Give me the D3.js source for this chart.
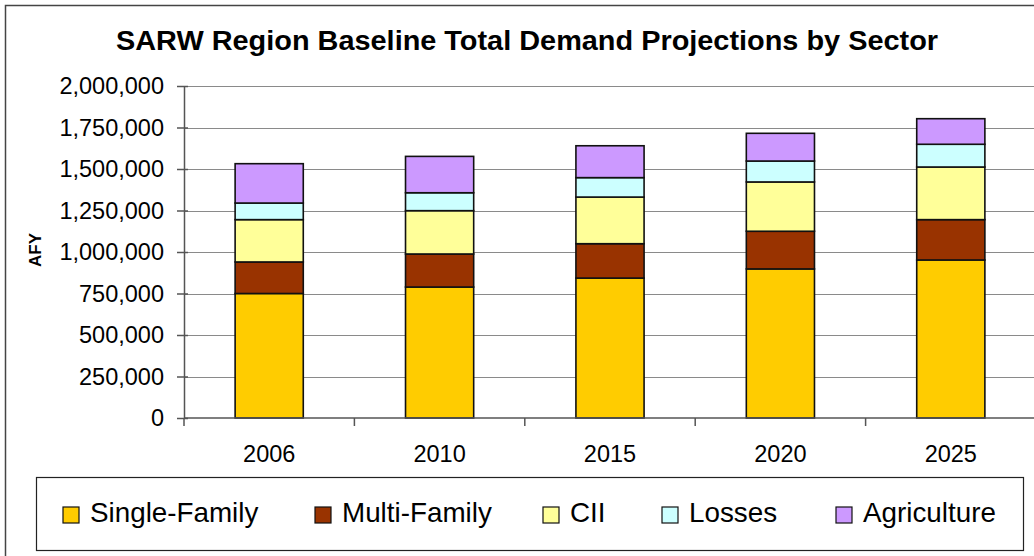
<!DOCTYPE html>
<html>
<head>
<meta charset="utf-8">
<script src="https://cdn.jsdelivr.net/npm/d3@7"></script>
<style>
	body { margin: 0; background: #fff; }
	svg { display: block; font-family: "Liberation Sans", Arial, sans-serif; }
	.grid line { stroke: #8a8a8a; stroke-width: 1; }
	.axis path, .axis line { stroke: #555; stroke-width: 1.5; }
	.axis text { fill: #000; font-size: 23.5px; }
</style>
</head>
<body>
<svg id="chart" width="1034" height="556"></svg>
<script>
const years = ["2006", "2010", "2015", "2020", "2025"];
const sectors = ["Single-Family", "Multi-Family", "CII", "Losses", "Agriculture"];
const sectorColors = ["#FFCC00", "#993300", "#FFFF99", "#CCFFFF", "#CC99FF"];

// AFY by sector
const singleFamily = [750000, 789000, 843000, 898000, 952000];
const multiFamily = [190000, 199000, 207000, 227000, 243000];
const cii = [255000, 261000, 281000, 297000, 317000];
const losses = [100000, 108000, 117000, 126000, 137000];
const agriculture = [237000, 219000, 192000, 167000, 154000];

const yTicks = [0, 250000, 500000, 750000, 1000000, 1250000, 1500000, 1750000, 2000000];

const width = 1034, height = 556;
const margin = { top: 86, right: -2, bottom: 138, left: 184 };

const svg = d3.select("#chart");

const rows = years.map((yr, i) => ({
	year: yr,
	"Single-Family": singleFamily[i],
	"Multi-Family": multiFamily[i],
	"CII": cii[i],
	"Losses": losses[i],
	"Agriculture": agriculture[i]
}));

const stacked = d3.stack().keys(sectors)(rows);

const x = d3.scaleBand()
	.domain(years)
	.range([margin.left, width - margin.right])
	.paddingInner(0.6)
	.paddingOuter(0.3);

// category boundaries for tick marks
const xEdges = d3.scaleBand().domain(years).range(x.range());

const y = d3.scaleLinear()
	.domain([0, 2000000])
	.range([height - margin.bottom, margin.top]);

const color = d3.scaleOrdinal().domain(sectors).range(sectorColors);

// outer chart border
svg.append("rect")
	.attr("x", 5.5).attr("y", 5.5)
	.attr("width", 1040).attr("height", 560)
	.attr("fill", "none")
	.attr("stroke", "#444")
	.attr("stroke-width", 1.5);

// title
svg.append("text")
	.attr("x", 527)
	.attr("y", 50)
	.attr("text-anchor", "middle")
	.attr("font-size", "27px")
	.attr("font-weight", "bold")
	.attr("textLength", 822)
	.attr("lengthAdjust", "spacingAndGlyphs")
	.text("SARW Region Baseline Total Demand Projections by Sector");

// gridlines
svg.append("g")
	.attr("class", "grid")
	.selectAll("line")
	.data(yTicks.slice(1))
	.join("line")
	.attr("x1", margin.left)
	.attr("x2", width)
	.attr("y1", d => Math.round(y(d)) + 0.5)
	.attr("y2", d => Math.round(y(d)) + 0.5);

// bars
svg.append("g")
	.selectAll("g")
	.data(stacked)
	.join("g")
	.attr("fill", d => color(d.key))
	.selectAll("rect")
	.data(d => d)
	.join("rect")
	.attr("x", d => x(d.data.year))
	.attr("width", x.bandwidth())
	.attr("y", d => y(d[1]))
	.attr("height", d => y(d[0]) - y(d[1]))
	.attr("stroke", "#111")
	.attr("stroke-width", 1.6);

// y axis
const yAxis = svg.append("g")
	.attr("class", "axis")
	.attr("transform", `translate(${margin.left},0)`)
	.call(d3.axisLeft(y).tickValues(yTicks).tickFormat(d3.format(",")).tickSize(7).tickSizeOuter(0).tickPadding(13));
yAxis.selectAll(".tick line").attr("x2", 4).attr("x1", -7);

// x axis
const xAxis = svg.append("g")
	.attr("class", "axis")
	.attr("transform", `translate(0,${y(0)})`)
	.call(d3.axisBottom(x).tickSize(0).tickSizeOuter(0).tickPadding(27));
xAxis.select(".domain").attr("d", `M${margin.left},0H${width}`);
xAxis.append("g")
	.selectAll("line")
	.data(years.map(d => xEdges(d)).concat([xEdges.range()[1]]))
	.join("line")
	.attr("x1", d => d).attr("x2", d => d)
	.attr("y1", 0).attr("y2", 8)
	.attr("stroke", "#555")
	.attr("stroke-width", 1.5);

// y axis title
svg.append("text")
	.attr("transform", "translate(41,250) rotate(-90)")
	.attr("text-anchor", "middle")
	.attr("font-size", "17px")
	.attr("font-weight", "bold")
	.text("AFY");

// legend
const legend = svg.append("g").attr("class", "legend");
legend.append("rect")
	.attr("x", 36.5).attr("y", 477.5)
	.attr("width", 987).attr("height", 73)
	.attr("fill", "#fff")
	.attr("stroke", "#222")
	.attr("stroke-width", 1.2);

const legendX = [63, 315, 543, 662, 836];
const items = legend.selectAll(".item")
	.data(sectors)
	.join("g")
	.attr("class", "item")
	.attr("transform", (d, i) => `translate(${legendX[i]},507)`);
items.append("rect")
	.attr("width", 16).attr("height", 16)
	.attr("fill", d => color(d))
	.attr("stroke", "#111")
	.attr("stroke-width", 1.2);
items.append("text")
	.attr("x", 27)
	.attr("y", 15)
	.attr("font-size", "27.8px")
	.text(d => d);
</script>
</body>
</html>
